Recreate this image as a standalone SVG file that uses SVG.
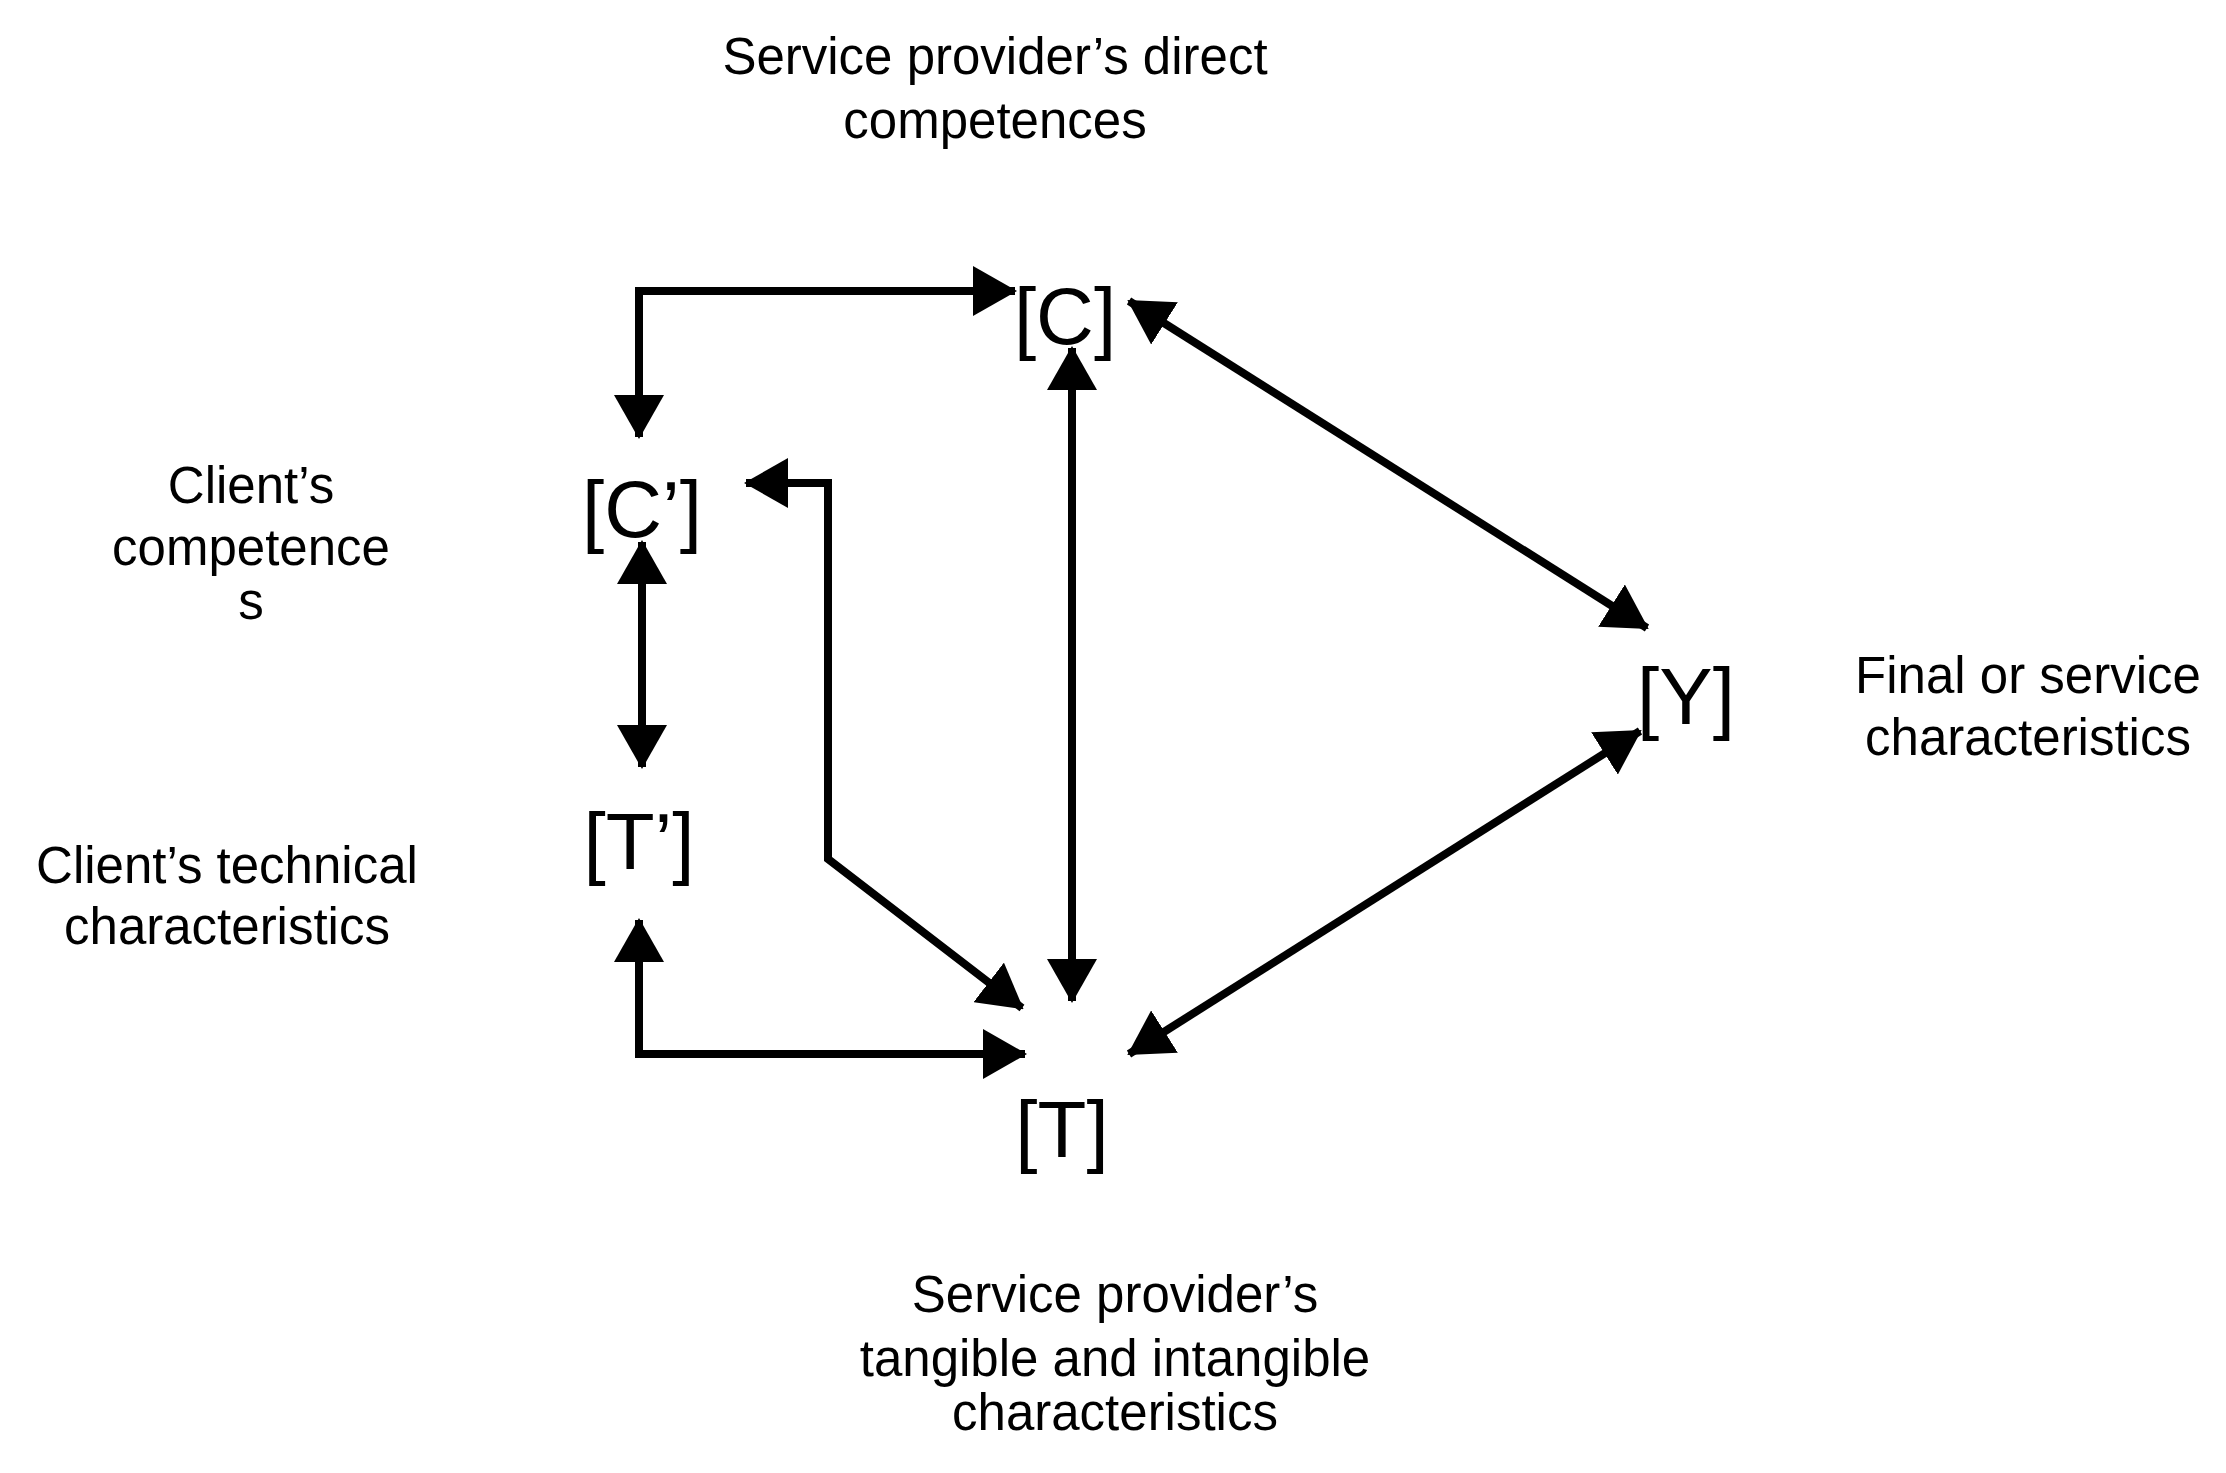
<svg xmlns="http://www.w3.org/2000/svg" width="2226" height="1473" viewBox="0 0 2226 1473">
<style>
.l{font-family:"Liberation Sans",Arial,sans-serif;font-size:51px;fill:#000;text-anchor:middle}
.n{font-family:"Liberation Sans",Arial,sans-serif;font-size:80px;fill:#000;text-anchor:middle}
.c{fill:none;stroke:#000;stroke-width:8;marker-start:url(#a);marker-end:url(#a)}
</style>
<defs>
<marker id="a" markerUnits="userSpaceOnUse" markerWidth="44" markerHeight="50" refX="42" refY="25" orient="auto-start-reverse">
<path d="M0,0 L44,25 L0,50 Z" fill="#000"/>
</marker>
</defs>
<rect width="2226" height="1473" fill="#fff"/>
<g id="label-top"><text class="l" x="995" y="74">Service provider’s direct</text><text class="l" x="995" y="138">competences</text></g>
<g id="label-client-comp"><text class="l" x="251" y="503">Client’s</text><text class="l" x="251" y="565">competence</text><text class="l" x="251" y="619">s</text></g>
<g id="label-client-tech"><text class="l" x="227" y="883">Client’s technical</text><text class="l" x="227" y="944">characteristics</text></g>
<g id="label-final"><text class="l" x="2028" y="693">Final or service</text><text class="l" x="2028" y="755">characteristics</text></g>
<g id="label-bottom"><text class="l" x="1115" y="1312">Service provider’s</text><text class="l" x="1115" y="1376">tangible and intangible</text><text class="l" x="1115" y="1430">characteristics</text></g>
<g id="C"><text class="n" x="1065" y="344">[C]</text></g>
<g id="Cp"><text class="n" x="642" y="537">[C’]</text></g>
<g id="Tp"><text class="n" x="639" y="869">[T’]</text></g>
<g id="T"><text class="n" x="1062" y="1157">[T]</text></g>
<g id="Y"><text class="n" x="1686" y="724">[Y]</text></g>
<g id="connectors">
<path class="c" d="M639,437 L639,291 L1015,291"/>
<path class="c" d="M1072,348 L1072,1001"/>
<path class="c" d="M1129,301 L1647,628"/>
<path class="c" d="M1640,731 L1129,1054"/>
<path class="c" d="M642,542 L642,767"/>
<path class="c" d="M746,483 L828,483 L828,859 L1022,1008"/>
<path class="c" d="M639,920 L639,1054 L1025,1054"/>
</g>
</svg>
